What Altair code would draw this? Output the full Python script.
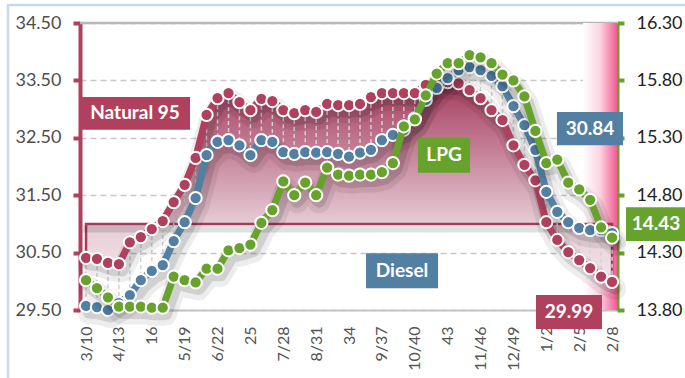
import altair as alt
import pandas as pd

# ---------------- data ----------------
tick_labels = ['3/10', '4/13', '16', '5/19', '6/22', '25', '7/28', '8/31', '34',
               '9/37', '10/40', '43', '11/46', '12/49', '1/2', '2/5', '2/8']
week = list(range(49))

natural95 = [30.41, 30.39, 30.32, 30.30, 30.68, 30.77, 30.91, 31.05, 31.38, 31.68,
             32.15, 32.90, 33.19, 33.28, 33.12, 32.98, 33.18, 33.14, 32.98, 32.93,
             32.98, 32.95, 33.09, 33.07, 33.07, 33.09, 33.21, 33.28, 33.28, 33.28,
             33.28, 33.42, 33.51, 33.47, 33.45, 33.33, 33.19, 32.98, 32.81, 32.37,
             32.03, 31.76, 31.03, 30.72, 30.51, 30.37, 30.23, 30.08, 29.99]

diesel = [29.57, 29.55, 29.50, 29.62, 29.76, 30.02, 30.18, 30.28, 30.70, 31.03,
          31.45, 32.20, 32.43, 32.46, 32.37, 32.20, 32.46, 32.43, 32.25, 32.22,
          32.25, 32.24, 32.25, 32.22, 32.17, 32.24, 32.29, 32.46, 32.55, 32.64,
          32.84, 33.16, 33.37, 33.54, 33.68, 33.73, 33.68, 33.58, 33.40, 33.05,
          32.72, 32.29, 31.56, 31.21, 31.03, 30.93, 30.89, 30.89, 30.84]

lpg = [14.06, 13.99, 13.91, 13.83, 13.83, 13.83, 13.82, 13.82, 14.09, 14.06,
       14.04, 14.16, 14.16, 14.32, 14.34, 14.37, 14.56, 14.67, 14.92, 14.80,
       14.91, 14.80, 15.04, 14.98, 14.97, 14.98, 14.98, 15.00, 15.08, 15.40,
       15.46, 15.67, 15.86, 15.95, 15.95, 16.02, 16.00, 15.95, 15.85, 15.80,
       15.66, 15.36, 15.08, 15.11, 14.91, 14.85, 14.76, 14.52, 14.43]

left_ticks = [29.5, 30.5, 31.5, 32.5, 33.5, 34.5]
right_ticks = [13.8, 14.3, 14.8, 15.3, 15.8, 16.3]

df = pd.DataFrame({"i": week, "natural95": natural95, "diesel": diesel, "lpg": lpg})
one = pd.DataFrame({"a": [0]})

RED = "#b0415e"
BLUE = "#527fa2"
GREEN = "#67a22c"
FONT = "Lato"

# annotation boxes (data coordinates: week index / left-axis value)
ann = pd.DataFrame({
    "text": ["Natural 95", "LPG", "Diesel",
             f"{diesel[-1]:.2f}", f"{lpg[-1]:.2f}", f"{natural95[-1]:.2f}"],
    "x0": [-0.55, 30.29, 25.55, 42.97, 49.27, 41.06],
    "x1": [9.49, 35.04, 32.12, 49.0, 54.74, 47.08],
    "y0": [33.21, 32.50, 30.49, 32.95, 31.29, 29.76],
    "y1": [32.64, 31.89, 29.88, 32.37, 30.70, 29.17],
    "c": [RED, GREEN, BLUE, BLUE, GREEN, RED],
})

band = pd.DataFrame({"x0": [45.35], "x1": [48.45], "y0": [29.5], "y1": [34.5]})

# ---------------- scales / axes ----------------
xs = alt.Scale(domain=[-0.55, 48.45], nice=False, zero=False)
yl = alt.Scale(domain=[29.5, 34.5], nice=False, zero=False)
yr = alt.Scale(domain=[13.8, 16.3], nice=False, zero=False)

label_expr = ""
for k, l in enumerate(tick_labels):
    label_expr += f"datum.value == {3 * k} ? '{l}' : "
label_expr += "''"

x_axis = alt.Axis(values=list(range(0, 49, 3)), labelExpr=label_expr, labelAngle=270,
                  labelAlign="right", labelBaseline="middle", labelFontSize=16,
                  labelColor="#555555", labelFont=FONT, ticks=False,
                  domainColor="#c4c4c4", domainWidth=2, grid=False,
                  labelPadding=16, title=None)

left_axis = alt.Axis(orient="left", values=left_ticks, format=".2f", labelFontSize=18,
                     labelFont=FONT, labelColor="#4d4d4d", domainColor=RED, domainWidth=4,
                     tickColor=RED, tickWidth=4, tickSize=7, labelPadding=12,
                     grid=True, gridDash=[6, 4], gridColor="#c8c8c8", gridWidth=1.5,
                     title=None)

right_axis = alt.Axis(orient="right", values=right_ticks, format=".2f", labelFontSize=18,
                      labelFont=FONT, labelColor="#222222", domainColor=GREEN, domainWidth=4,
                      tickColor=GREEN, tickWidth=4, tickSize=7, labelPadding=12,
                      grid=False, title=None)


def X(field):
    return alt.X(field, scale=xs, axis=x_axis)


def YL(field):
    return alt.Y(field, scale=yl, axis=left_axis)


def YR(field):
    return alt.Y(field, scale=yr, axis=right_axis)


base = alt.Chart(df)

# ---------------- left-axis layers ----------------
top_rule = alt.Chart(one).mark_rule(color="#b8b8b8", strokeWidth=2.5).encode(
    y=alt.Y(datum=34.5, scale=yl, axis=left_axis))

band_layer = alt.Chart(band).mark_rect(
    color=alt.Gradient(gradient="linear",
                       stops=[alt.GradientStop(color="#ffffff", offset=0),
                              alt.GradientStop(color="#fcd3e1", offset=0.5),
                              alt.GradientStop(color="#f25b93", offset=1)],
                       x1=0, x2=1, y1=0, y2=0)).encode(
    x=X("x0:Q"), x2="x1:Q", y=YL("y0:Q"), y2="y1:Q")

area = base.mark_area(
    color=alt.Gradient(gradient="linear",
                       stops=[alt.GradientStop(color="#a53a5c", offset=0),
                              alt.GradientStop(color="#c98aa0", offset=0.4),
                              alt.GradientStop(color="#e6cbd5", offset=0.71),
                              alt.GradientStop(color="#f4e6eb", offset=1)],
                       x1=0, x2=0, y1=0, y2=1),
    stroke="#a83a5a", strokeWidth=2.5).encode(
    x=X("i:Q"), y=YL("natural95:Q"), y2=alt.datum(31.0))

base_shadow = alt.Chart(one).mark_rule(color="black", opacity=0.12, strokeWidth=7, yOffset=5).encode(
    x=alt.X(datum=-0.3, scale=xs, axis=x_axis), x2=alt.datum(48.45),
    y=alt.Y(datum=31.0, scale=yl, axis=left_axis))

drops = base.mark_rule(strokeDash=[4, 3], color="#d2d2d2", strokeWidth=1.5).encode(
    x=X("i:Q"), y=YL("natural95:Q"), y2="diesel:Q")


def series(field, Y, color):
    y = Y(f"{field}:Q")
    sh1 = base.mark_line(color="black", opacity=0.07, strokeWidth=22, xOffset=3, yOffset=7,
                         strokeCap="round", strokeJoin="round").encode(x=X("i:Q"), y=y)
    sh2 = base.mark_line(color="black", opacity=0.12, strokeWidth=13, xOffset=3, yOffset=6,
                         strokeCap="round", strokeJoin="round").encode(x=X("i:Q"), y=y)
    ln = base.mark_line(color=color, strokeWidth=7, strokeJoin="round").encode(x=X("i:Q"), y=y)
    pt = base.mark_point(filled=True, fill=color, stroke="white", strokeWidth=2,
                         size=150, opacity=1, shape="circle").encode(x=X("i:Q"), y=y)
    return [sh1, sh2, ln, pt]


boxes = alt.Chart(ann).mark_rect().encode(
    x=X("x0:Q"), x2="x1:Q", y=YL("y0:Q"), y2="y1:Q",
    color=alt.Color("c:N", scale=None))

texts = alt.Chart(ann).transform_calculate(
    xc="(datum.x0 + datum.x1) / 2", yc="(datum.y0 + datum.y1) / 2"
).mark_text(color="white", fontSize=19, fontWeight="bold", font=FONT,
            baseline="middle", align="center").encode(
    x=X("xc:Q"), y=YL("yc:Q"), text="text:N")

left = alt.layer(top_rule, band_layer, area, base_shadow, drops,
                 *series("natural95", YL, RED), *series("diesel", YL, BLUE),
                 boxes, texts)

right = alt.layer(*series("lpg", YR, GREEN))

frame = alt.Chart(one).mark_rect(
    filled=False, color="#c5d9ee", strokeWidth=2.5).encode(
    x=alt.value(-72), x2=alt.value(640), y=alt.value(-18), y2=alt.value(400))

chart = alt.layer(left, right, frame).resolve_scale(y="independent").properties(
    width=537, height=287,
    autosize=alt.AutoSizeParams(type="none"),
    padding={"left": 80, "top": 23, "right": 68, "bottom": 68},
    background="white",
).configure_view(stroke=None)

chart.save("out.html", embed_options={"renderer": "svg", "actions": False})
